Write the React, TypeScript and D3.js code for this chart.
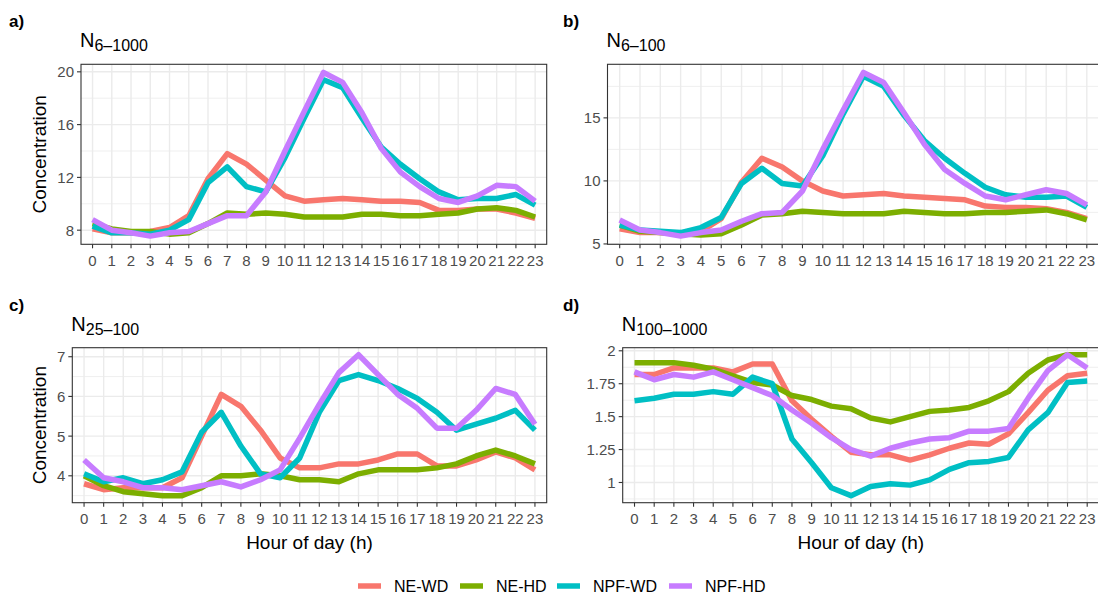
import React from 'react';
import * as d3 from 'd3';

// hours of the day (x categories)
const hours = [0, 1, 2, 3, 4, 5, 6, 7, 8, 9, 10, 11, 12, 13, 14, 15, 16, 17, 18, 19, 20, 21, 22, 23];

const seriesNames = ['NE-WD', 'NE-HD', 'NPF-WD', 'NPF-HD'];
const seriesColors = ['#F8766D', '#7CAE00', '#00BFC4', '#C77CFF'];

// a) N6-1000
const a_neWd = [8.1, 7.8, 7.8, 7.9, 8.2, 9.1, 11.9, 13.8, 13.0, 11.8, 10.6, 10.2, 10.3, 10.4, 10.3, 10.2, 10.2, 10.1, 9.5, 9.5, 9.6, 9.6, 9.3, 8.9];
const a_neHd = [8.5, 8.1, 7.9, 7.9, 7.7, 7.8, 8.5, 9.3, 9.2, 9.3, 9.2, 9.0, 9.0, 9.0, 9.2, 9.2, 9.1, 9.1, 9.2, 9.3, 9.6, 9.7, 9.5, 9.0];
const a_npfWd = [8.3, 7.8, 7.8, 7.7, 8.0, 8.8, 11.6, 12.8, 11.3, 10.9, 13.5, 16.5, 19.4, 18.8, 16.5, 14.3, 13.0, 11.9, 10.9, 10.3, 10.4, 10.4, 10.7, 9.9];
const a_npfHd = [8.8, 8.0, 7.8, 7.55, 7.8, 7.9, 8.5, 9.1, 9.1, 10.9, 14.0, 17.0, 19.95, 19.2, 16.9, 14.2, 12.4, 11.3, 10.4, 10.1, 10.6, 11.4, 11.3, 10.2];

// b) N6-100
const b_neWd = [6.2, 5.9, 5.9, 5.8, 6.0, 7.0, 9.9, 11.8, 11.1, 10.0, 9.2, 8.8, 8.9, 9.0, 8.8, 8.7, 8.6, 8.5, 8.0, 7.9, 7.9, 7.8, 7.5, 7.0];
const b_neHd = [6.5, 6.0, 5.9, 5.8, 5.7, 5.8, 6.5, 7.3, 7.4, 7.6, 7.5, 7.4, 7.4, 7.4, 7.6, 7.5, 7.4, 7.4, 7.5, 7.5, 7.6, 7.7, 7.4, 6.9];
const b_npfWd = [6.5, 6.1, 6.0, 5.9, 6.3, 7.1, 9.8, 11.0, 9.8, 9.6, 12.0, 15.3, 18.3, 17.5, 15.2, 13.2, 11.8, 10.6, 9.5, 8.9, 8.7, 8.7, 8.8, 7.9];
const b_npfHd = [6.9, 6.1, 5.9, 5.62, 5.9, 6.1, 6.8, 7.4, 7.5, 9.2, 12.5, 15.6, 18.6, 17.8, 15.4, 12.9, 10.9, 9.8, 8.8, 8.5, 8.9, 9.3, 9.0, 8.1];

// c) N25-100
const c_neWd = [3.8, 3.65, 3.7, 3.7, 3.7, 3.95, 5.0, 6.05, 5.75, 5.15, 4.45, 4.2, 4.2, 4.3, 4.3, 4.4, 4.55, 4.55, 4.25, 4.25, 4.4, 4.6, 4.45, 4.15];
const c_neHd = [4.0, 3.75, 3.6, 3.55, 3.5, 3.5, 3.7, 4.0, 4.0, 4.05, 4.0, 3.9, 3.9, 3.85, 4.05, 4.15, 4.15, 4.15, 4.2, 4.3, 4.5, 4.65, 4.5, 4.3];
const c_npfWd = [4.05, 3.85, 3.95, 3.8, 3.9, 4.1, 5.1, 5.6, 4.75, 4.05, 3.95, 4.45, 5.6, 6.4, 6.55, 6.4, 6.2, 5.95, 5.6, 5.15, 5.3, 5.45, 5.65, 5.15];
const c_npfHd = [4.4, 3.95, 3.85, 3.7, 3.7, 3.65, 3.75, 3.85, 3.72, 3.9, 4.15, 4.95, 5.8, 6.6, 7.05, 6.55, 6.05, 5.7, 5.2, 5.2, 5.65, 6.2, 6.05, 5.3];

// d) N100-1000
const d_neWd = [1.82, 1.82, 1.87, 1.87, 1.87, 1.84, 1.9, 1.9, 1.62, 1.48, 1.35, 1.23, 1.21, 1.21, 1.17, 1.21, 1.26, 1.3, 1.29, 1.37, 1.53, 1.7, 1.81, 1.83];
const d_neHd = [1.91, 1.91, 1.91, 1.89, 1.86, 1.81, 1.76, 1.74, 1.66, 1.63, 1.58, 1.56, 1.49, 1.46, 1.5, 1.54, 1.55, 1.57, 1.62, 1.69, 1.83, 1.93, 1.97, 1.97];
const d_npfWd = [1.62, 1.64, 1.67, 1.67, 1.69, 1.67, 1.8, 1.75, 1.33, 1.15, 0.96, 0.9, 0.97, 0.99, 0.98, 1.02, 1.1, 1.15, 1.16, 1.19, 1.4, 1.53, 1.76, 1.77];
const d_npfHd = [1.84, 1.78, 1.82, 1.8, 1.84, 1.78, 1.72, 1.66, 1.55, 1.45, 1.34, 1.25, 1.2, 1.26, 1.3, 1.33, 1.34, 1.39, 1.39, 1.41, 1.64, 1.85, 1.97, 1.87];

const aBreaks = [8, 12, 16, 20];
const bBreaks = [5, 10, 15];
const cBreaks = [4, 5, 6, 7];
const dBreaks = [1, 1.25, 1.5, 1.75, 2];

const FONT = '"Liberation Sans", Arial, sans-serif';

const panels = [
  { tag: 'a)', sub: '6–1000', series: [a_neWd, a_neHd, a_npfWd, a_npfHd], breaks: aBreaks,
    left: 81, right: 546.7, top: 64.3, bottom: 244.3, tagX: 9, yTitle: true, xTitle: false },
  { tag: 'b)', sub: '6–100', series: [b_neWd, b_neHd, b_npfWd, b_npfHd], breaks: bBreaks,
    left: 607.5, right: 1099, top: 64.3, bottom: 244.3, tagX: 563, yTitle: false, xTitle: false },
  { tag: 'c)', sub: '25–100', series: [c_neWd, c_neHd, c_npfWd, c_npfHd], breaks: cBreaks,
    left: 72.3, right: 546.7, top: 347.7, bottom: 502.7, tagX: 9, yTitle: true, xTitle: true },
  { tag: 'd)', sub: '100–1000', series: [d_neWd, d_neHd, d_npfWd, d_npfHd], breaks: dBreaks,
    left: 622.7, right: 1099, top: 347.7, bottom: 502.7, tagX: 563, yTitle: false, xTitle: true },
];

const fmt = d3.format('~g');

function Panel({ p }: { p: any }) {
  const all = p.series.flat();
  const [lo, hi] = d3.extent(all) as [number, number];
  const pad = (hi - lo) * 0.05;
  const y = d3.scaleLinear().domain([lo - pad, hi + pad]).range([p.bottom, p.top]);
  const x = d3.scaleLinear().domain([-0.6, 23.6]).range([p.left, p.right]);
  const step = p.breaks[1] - p.breaks[0];
  const minors = [p.breaks[0] - step / 2, ...p.breaks.map((b: number) => b + step / 2)]
    .filter((v: number) => v >= y.domain()[0] && v <= y.domain()[1]);
  const line = d3.line<number>()
    .x((d, i) => x(hours[i]))
    .y(d => y(d));

  return (
    <g>
      <text x={p.tagX} y={p.top - 37} fontSize={17} fontWeight="bold" fill="#000">{p.tag}</text>
      <text x={p.left - 1} y={p.top - 17} fontSize={20} fill="#000">
        N<tspan fontSize={16} dy={4}>{p.sub}</tspan>
      </text>
      <rect x={p.left} y={p.top} width={p.right - p.left} height={p.bottom - p.top} fill="#fff" />
      {minors.map((v: number) => (
        <line key={'mi' + v} x1={p.left} x2={p.right} y1={y(v)} y2={y(v)} stroke="#EBEBEB" strokeWidth={0.8} />
      ))}
      {p.breaks.map((v: number) => (
        <line key={'ma' + v} x1={p.left} x2={p.right} y1={y(v)} y2={y(v)} stroke="#EBEBEB" strokeWidth={1.4} />
      ))}
      {hours.map(h => (
        <line key={'vx' + h} x1={x(h)} x2={x(h)} y1={p.top} y2={p.bottom} stroke="#EBEBEB" strokeWidth={1.4} />
      ))}
      {p.series.map((s: number[], i: number) => (
        <path key={seriesNames[i]} d={line(s) || ''} fill="none" stroke={seriesColors[i]}
          strokeWidth={5.5} strokeLinejoin="round" strokeLinecap="butt" />
      ))}
      <rect x={p.left} y={p.top} width={p.right - p.left} height={p.bottom - p.top}
        fill="none" stroke="#333333" strokeWidth={1.1} />
      {p.breaks.map((v: number) => (
        <g key={'yt' + v}>
          <line x1={p.left - 4} x2={p.left} y1={y(v)} y2={y(v)} stroke="#333333" strokeWidth={1.1} />
          <text x={p.left - 7} y={y(v)} dy="0.36em" textAnchor="end" fontSize={15} fill="#4D4D4D">{fmt(v)}</text>
        </g>
      ))}
      {hours.map(h => (
        <g key={'xt' + h}>
          <line x1={x(h)} x2={x(h)} y1={p.bottom} y2={p.bottom + 4} stroke="#333333" strokeWidth={1.1} />
          <text x={x(h)} y={p.bottom + 21.5} textAnchor="middle" fontSize={15} fill="#4D4D4D">{h}</text>
        </g>
      ))}
      {p.yTitle && (
        <text transform={`translate(${46},${(p.top + p.bottom) / 2}) rotate(-90)`} textAnchor="middle"
          fontSize={19} fill="#000">Concentration</text>
      )}
      {p.xTitle && (
        <text x={(p.left + p.right) / 2} y={p.bottom + 46} textAnchor="middle" fontSize={19} fill="#000">
          Hour of day (h)
        </text>
      )}
    </g>
  );
}

export default function App() {
  const legendX = [358, 460, 557, 669];
  return (
    <div style={{ position: 'absolute', left: 0, top: 0 }}>
      <svg width={1098} height={599} style={{ display: 'block', fontFamily: FONT, background: '#fff' }}>
        {panels.map(p => <Panel key={p.tag} p={p} />)}
        {seriesNames.map((name, i) => (
          <g key={name}>
            <line x1={legendX[i]} x2={legendX[i] + 23} y1={586} y2={586} stroke={seriesColors[i]} strokeWidth={5.5} />
            <text x={legendX[i] + 36} y={592} fontSize={16} fill="#000">{name}</text>
          </g>
        ))}
      </svg>
    </div>
  );
}
